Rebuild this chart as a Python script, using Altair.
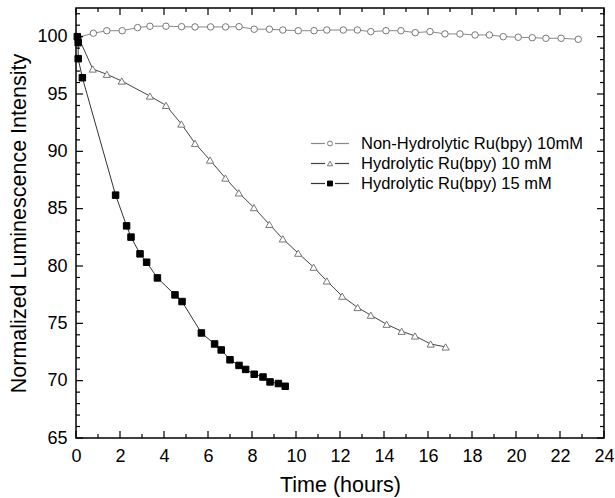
import altair as alt
import pandas as pd

# ---------------- data ----------------
t_non = [0.1, 0.79, 1.4, 2.1, 2.8, 3.36, 4.09, 4.8, 5.41, 6.12, 6.8, 7.41, 8.1, 8.79, 9.4,
         10.1, 10.82, 11.4, 12.15, 12.79, 13.4, 14.09, 14.77, 15.42, 16.09, 16.77, 17.45,
         18.14, 18.79, 19.42, 20.1, 20.74, 21.36, 22.05, 22.83]
v_non = [99.95, 100.30, 100.52, 100.52, 100.79, 100.91, 100.91, 100.87, 100.85, 100.85,
         100.85, 100.87, 100.65, 100.65, 100.58, 100.52, 100.52, 100.58, 100.58, 100.58,
         100.44, 100.52, 100.52, 100.35, 100.44, 100.24, 100.24, 100.15, 100.15, 100.0,
         99.95, 99.91, 99.86, 99.86, 99.77]

t_h10 = [0.1, 0.76, 1.4, 2.08, 3.36, 4.09, 4.79, 5.41, 6.09, 6.79, 7.4, 8.09, 8.79, 9.4,
         10.1, 10.8, 11.4, 12.1, 12.8, 13.4, 14.12, 14.8, 15.41, 16.12, 16.8]
v_h10 = [100.0, 97.18, 96.72, 96.13, 94.82, 94.01, 92.38, 90.70, 89.24, 87.67, 86.38,
         85.09, 83.63, 82.37, 81.12, 79.90, 78.70, 77.37, 76.38, 75.71, 74.92, 74.31,
         73.90, 73.20, 72.94]

t_h15 = [0.06, 0.1, 0.1, 0.29, 1.8, 2.3, 2.5, 2.91, 3.21, 3.7, 4.5, 4.82, 5.7, 6.3, 6.6,
         7.0, 7.41, 7.71, 8.1, 8.5, 8.82, 9.2, 9.51]
v_h15 = [100.0, 99.48, 98.08, 96.42, 86.18, 83.5, 82.52, 81.06, 80.33, 78.96, 77.48,
         76.9, 74.16, 73.2, 72.68, 71.82, 71.33, 70.98, 70.56, 70.32, 69.89, 69.75, 69.51]

legend_labels = ["Non-Hydrolytic Ru(bpy) 10mM", "Hydrolytic Ru(bpy) 10 mM",
                 "Hydrolytic Ru(bpy) 15 mM"]

x_major = list(range(0, 25, 2))
x_minor = list(range(1, 24, 2))
y_major = [65, 70, 75, 80, 85, 90, 95, 100]
y_minor = [v for v in range(66, 103) if v % 5 != 0]

# ---------------- layout ----------------
W, H = 528, 430
FONT = "Liberation Sans"
xs = alt.Scale(domain=[0, 24], nice=False, zero=False)
ys = alt.Scale(domain=[65, 102.5], nice=False, zero=False)

x_axis = alt.Axis(values=x_major, title="Time (hours)", ticks=False, tickSize=0,
                  domain=False, grid=False, labelFont=FONT, labelFontSize=18,
                  labelColor="black", labelPadding=9, titleFont=FONT,
                  titleFontSize=21.5, titleFontWeight="normal", titleColor="black",
                  titlePadding=9, labelFlush=False)
y_axis = alt.Axis(values=y_major, title="Normalized Luminescence Intensity", ticks=False,
                  tickSize=0, domain=False, grid=False, labelFont=FONT, labelFontSize=18,
                  labelColor="black", labelPadding=9, titleFont=FONT, titleFontSize=21.5,
                  titleFontWeight="normal", titleColor="black", titlePadding=6,
                  labelFlush=False)


def X():
    return alt.X("t:Q", scale=xs, axis=x_axis)


def Y():
    return alt.Y("v:Q", scale=ys, axis=y_axis)


def series(t, v, line_color, shape, filled, size, mstroke):
    df = pd.DataFrame({"t": t, "v": v, "i": list(range(len(t)))})
    line = alt.Chart(df).mark_line(color=line_color, strokeWidth=1).encode(
        x=X(), y=Y(), order="i:Q")
    pts = alt.Chart(df).mark_point(
        shape=shape, size=size, filled=True,
        fill=("black" if filled else "white"), stroke=mstroke, strokeWidth=1,
        opacity=1).encode(x=X(), y=Y())
    return [line, pts]


layers = []
layers += series(t_non, v_non, "#888888", "circle", False, 42, "#777777")
layers += series(t_h10, v_h10, "#444444", "triangle-up", False, 52, "#777777")
layers += series(t_h15, v_h15, "#333333", "square", True, 42, "black")

# ---------------- ticks (inward, mirrored) ----------------
MAJ, MIN = 7, 4


def xticks(vals, length):
    df = pd.DataFrame({"t": vals})
    b = alt.Chart(df).mark_rule(color="black", strokeWidth=1.2).encode(
        x=X(), y=alt.value(H), y2=alt.value(H - length))
    tp = alt.Chart(df).mark_rule(color="black", strokeWidth=1.2).encode(
        x=X(), y=alt.value(0), y2=alt.value(length))
    return [b, tp]


def yticks(vals, length):
    df = pd.DataFrame({"v": vals})
    l = alt.Chart(df).mark_rule(color="black", strokeWidth=1.2).encode(
        y=Y(), x=alt.value(0), x2=alt.value(length))
    r = alt.Chart(df).mark_rule(color="black", strokeWidth=1.2).encode(
        y=Y(), x=alt.value(W), x2=alt.value(W - length))
    return [l, r]


layers += xticks(x_major, MAJ) + xticks(x_minor, MIN)
layers += yticks(y_major, MAJ) + yticks(y_minor, MIN)

# ---------------- legend ----------------
one = pd.DataFrame({"a": [0]})
leg_rows = [135.5, 155.5, 175.5]
leg_styles = [("#888888", "circle", False, 24, "#777777"),
              ("#444444", "triangle-up", False, 28, "#777777"),
              ("#333333", "square", True, 24, "black")]
for label, yy, (lc, shp, fil, sz, ms) in zip(legend_labels, leg_rows, leg_styles):
    layers.append(alt.Chart(one).mark_rule(color=lc, strokeWidth=1.2).encode(
        x=alt.value(235), x2=alt.value(249), y=alt.value(yy)))
    layers.append(alt.Chart(one).mark_rule(color=lc, strokeWidth=1.2).encode(
        x=alt.value(259), x2=alt.value(273), y=alt.value(yy)))
    layers.append(alt.Chart(one).mark_point(
        shape=shp, size=sz, filled=True, fill=("black" if fil else "white"),
        stroke=ms, strokeWidth=1, opacity=1).encode(x=alt.value(254), y=alt.value(yy)))
    layers.append(alt.Chart(one).mark_text(
        align="left", baseline="middle", font=FONT, fontSize=16.5, color="black").encode(
        x=alt.value(285), y=alt.value(yy + 0.5), text=alt.value(label)))

chart = alt.layer(*layers).properties(
    width=W, height=H,
    autosize=alt.AutoSizeParams(type="none"),
    padding={"left": 76, "top": 8, "right": 11, "bottom": 60},
    background="white",
).configure_view(stroke="black", strokeWidth=1.5)

chart.save("out.html", embed_options={"renderer": "svg", "actions": False})
